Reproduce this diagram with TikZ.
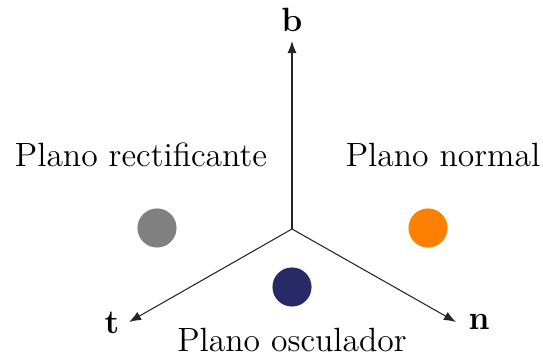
\documentclass[tikz,border=0pt]{standalone}
\usetikzlibrary{arrows.meta}
\definecolor{dotgray}{RGB}{128,128,128}
\definecolor{dotorange}{RGB}{255,128,0}
\definecolor{dotnavy}{RGB}{40,42,104}
\tikzset{
  axis/.style={draw=black!85,line width=0.35pt,-{Latex[length=4pt,width=3pt]}},
  dot/.style={circle,inner sep=0pt,minimum size=12.9pt,draw=none},
  lbl/.style={font=\fontsize{11.1}{13}\selectfont,inner sep=0pt},
  axlbl/.style={font=\fontsize{11.1}{13}\selectfont\bfseries,inner sep=0pt}
}
\begin{document}
\begin{tikzpicture}[x=0.33pt,y=-0.33pt]
\useasboundingbox (0,0) rectangle (543,362);
\coordinate (O) at (292,229);
\coordinate (bt) at (292,41);
\coordinate (tt) at (129,322);
\coordinate (nt) at (456,322);
\draw[axis] (O) -- (bt);
\draw[axis] (O) -- (tt);
\draw[axis] (O) -- (nt);
\node[axlbl] (b) at (292,20) {b};
\node[axlbl] (t) at (112,323) {t};
\node[axlbl] (n) at (479,322) {n};
\node[dot,fill=dotgray] (dg) at (157,228) {};
\node[dot,fill=dotorange] (do) at (428,228) {};
\node[dot,fill=dotnavy] (dn) at (292,287) {};
\node[lbl] (pr) at (141,155) {Plano rectificante};
\node[lbl] (pn) at (443,155) {Plano normal};
\node[lbl] (po) at (292,340) {Plano osculador};
\end{tikzpicture}
\end{document}
